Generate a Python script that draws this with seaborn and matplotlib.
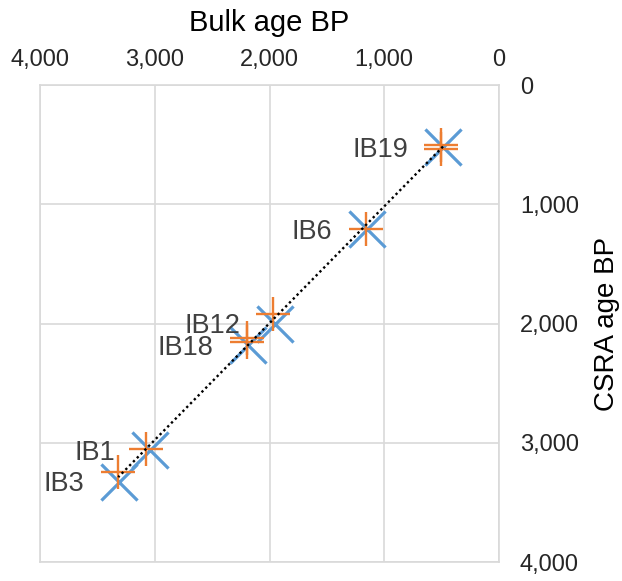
import numpy as np
import pandas as pd
import matplotlib
matplotlib.use("Agg")
import matplotlib.pyplot as plt
import seaborn as sns
from matplotlib.ticker import FuncFormatter

# ---- data ----
samples = ["IB19", "IB6", "IB12", "IB18", "IB1", "IB3"]
bulk_blue = [488, 1148, 1952, 2185, 3041, 3312]
csra_blue = [518, 1207, 2001, 2182, 3060, 3325]

orange_samples = ["IB19", "IB19", "IB6", "IB12", "IB18", "IB18", "IB1", "IB3"]
bulk_orange = [508, 508, 1159, 1972, 2193, 2193, 3076, 3318]
csra_orange = [502, 538, 1207, 1923, 2121, 2154, 3052, 3242]

x_ticks = [0, 1000, 2000, 3000, 4000]
y_ticks = [0, 1000, 2000, 3000, 4000]

sns.set_theme(style="white")
plt.rcParams['font.family'] = ['Liberation Sans', 'DejaVu Sans']

blue_df = pd.DataFrame({"bulk": bulk_blue, "csra": csra_blue, "sample": samples})
orange_df = pd.DataFrame({"bulk": bulk_orange, "csra": csra_orange, "sample": orange_samples})

fig = plt.figure(figsize=(6.22, 5.81), dpi=100)
ax = fig.add_axes([40/622, 1-562/581, (499-40)/622, (562-85)/581])

# trend line (linear fit through all points, spanning data range)
all_x = np.array(bulk_blue + bulk_orange, dtype=float)
all_y = np.array(csra_blue + csra_orange, dtype=float)
k, b = np.polyfit(all_x, all_y, 1)
xs = np.array([all_x.min(), all_x.max()])
ax.plot(xs, k*xs + b, linestyle=(0, (1, 1.3)), color="#000000", linewidth=1.7, zorder=4)

sns.scatterplot(data=blue_df, x="bulk", y="csra", marker="x", s=26**2,
                color="#5B9BD5", linewidth=2.3, ax=ax, zorder=3, legend=False)
sns.scatterplot(data=orange_df, x="bulk", y="csra", marker="+", s=25**2,
                color="#ED7D31", linewidth=1.7, ax=ax, zorder=3.5, legend=False)

for name, xv, yv in zip(samples, bulk_blue, csra_blue):
    ax.annotate(name, (xv, yv), xytext=(-25, -2), textcoords="offset points",
                ha="right", va="center", fontsize=19.5, color="#404040")

ax.set_xlim(4000, 0)
ax.set_ylim(4000, 0)
ax.set_xticks(x_ticks)
ax.set_yticks(y_ticks)
fmt = FuncFormatter(lambda v, p: f"{int(v):,}")
ax.xaxis.set_major_formatter(fmt)
ax.yaxis.set_major_formatter(fmt)
ax.xaxis.tick_top()
ax.xaxis.set_label_position("top")
ax.yaxis.tick_right()
ax.yaxis.set_label_position("right")
ax.tick_params(axis="both", length=0, labelsize=17, colors="#262626")
ax.tick_params(axis="x", pad=10)
ax.tick_params(axis="y", pad=15)
ax.set_xlabel("Bulk age BP", fontsize=21, color="#000000", labelpad=13)
ax.set_ylabel("CSRA age BP", fontsize=20, color="#000000", labelpad=11)

ax.grid(True, color="#D9D9D9", linewidth=1.2)
for sp in ax.spines.values():
    sp.set_visible(True)
    sp.set_color("#D9D9D9")
    sp.set_linewidth(1.2)

fig.savefig("out.png", dpi=100)
